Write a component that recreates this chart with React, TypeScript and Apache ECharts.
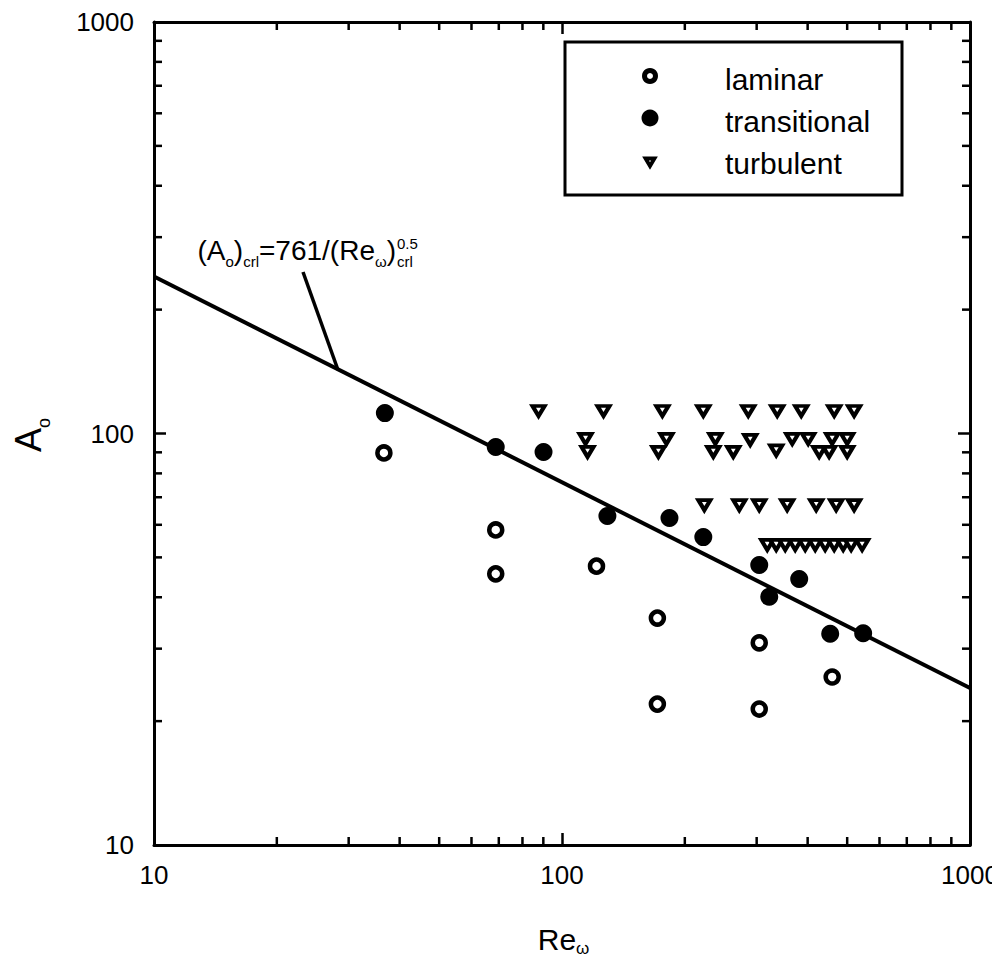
import { useEffect, useRef } from 'react';
import * as echarts from 'echarts';

const FONT = "'Liberation Sans', Arial, sans-serif";

// Axis range and tick labels (log10 scale on both axes)
const AXIS_MIN = 10;
const AXIS_MAX = 1000;
const TICK_VALUES = [10, 100, 1000];
const TICK_LABELS = ['10', '100', '1000'];
const MINOR_TICK_VALUES = [20, 30, 40, 50, 60, 70, 80, 90, 200, 300, 400, 500, 600, 700, 800, 900];

// Series names
const SERIES_NAMES = ['laminar', 'transitional', 'turbulent'];

// Laminar runs: Re_omega and A_o
const LAMINAR_RE = [36.6, 68.8, 68.8, 121.5, 171.3, 304.4, 459.4, 171.3, 304.4];
const LAMINAR_A = [89.7, 58.3, 45.6, 47.6, 35.6, 31.0, 25.6, 22.0, 21.4];

// Transitional runs
const TRANSITIONAL_RE = [36.8, 68.8, 90.1, 129.2, 183.4, 222.0, 304.4, 381.4, 322.1, 454.3, 547.2];
const TRANSITIONAL_A = [112.1, 92.7, 90.2, 63.0, 62.3, 56.0, 47.9, 44.3, 40.1, 32.6, 32.7];

// Turbulent runs
const TURBULENT_RE = [
  87.6, 126.4, 176.2, 222.0, 286.1, 336.9, 385.8, 464.7, 520.0,
  114.2, 180.3, 237.6, 289.3, 366.7, 401.3, 459.4, 500.0,
  115.5, 172.3, 234.9, 262.9, 335.0, 426.9, 451.6, 500.0,
  223.3, 272.0, 304.4, 356.4, 419.8, 469.9, 520.0,
  318.5, 335.0, 352.5, 372.9, 394.6, 417.5, 441.6, 464.7, 488.9, 511.3, 544.0,
];
const TURBULENT_A = [
  113.4, 113.4, 113.4, 113.4, 113.4, 113.4, 113.4, 113.4, 113.4,
  97.0, 97.0, 97.0, 96.5, 97.0, 97.0, 97.0, 97.0,
  90.2, 90.2, 90.2, 90.2, 91.0, 90.2, 90.2, 90.2,
  67.0, 67.0, 67.0, 67.0, 67.0, 67.0, 67.0,
  53.6, 53.6, 53.6, 53.6, 53.6, 53.6, 53.6, 53.6, 53.6, 53.6, 53.6,
];

// Critical amplitude correlation (A_o)crl = 761 / (Re_omega)crl^0.5
const FIT_COEFF = 761;
const FIT_EXPONENT = 0.5;
const FIT_RE = [10, 1000];

const zip = (xs: number[], ys: number[]) => xs.map((x, i) => [x, ys[i]]);

const tickLabel = (v: number) => {
  const i = TICK_VALUES.findIndex((t) => Math.abs(Math.log10(t) - Math.log10(v)) < 1e-6);
  return i >= 0 ? TICK_LABELS[i] : '';
};

const baseAxis = {
  type: 'log' as const,
  logBase: 10,
  min: AXIS_MIN,
  max: AXIS_MAX,
  splitLine: { show: false },
  axisLine: { show: true, onZero: false, lineStyle: { color: '#000', width: 3 } },
  axisTick: { show: true, inside: true, length: 12, lineStyle: { color: '#000', width: 2.5 } },
};

const text = (x: number, y: number, s: string, fontSize: number, extra: any = {}) => ({
  type: 'text',
  x,
  y,
  z: 11,
  ...extra,
  style: {
    text: s,
    fontSize,
    fontFamily: FONT,
    fill: '#000',
    textAlign: 'center',
    textVerticalAlign: 'middle',
    ...(extra.style || {}),
  },
});

export default function App() {
  const ref = useRef<HTMLDivElement>(null);

  useEffect(() => {
    if (!ref.current) return;
    const chart = echarts.init(ref.current, undefined, { renderer: 'svg' });

    const legendY = [68, 110, 154];
    const legendTextY = [71, 113, 155];
    const legendX = 642;

    chart.setOption({
      animation: false,
      backgroundColor: '#fff',
      grid: { left: 146, top: 14, width: 816, height: 823, outerBoundsMode: 'none', containLabel: false },
      xAxis: [
        {
          ...baseAxis,
          position: 'bottom',
          axisLabel: { margin: 17, fontSize: 26, color: '#000', fontFamily: FONT, formatter: tickLabel },
        },
        {
          ...baseAxis,
          position: 'top',
          axisLabel: { show: false },
        },
      ],
      yAxis: [
        {
          ...baseAxis,
          position: 'left',
          axisLabel: { margin: 20, fontSize: 26, color: '#000', fontFamily: FONT, formatter: tickLabel },
        },
        {
          ...baseAxis,
          position: 'right',
          axisLabel: { show: false },
        },
      ],
      series: [
        {
          type: 'custom',
          name: 'minor ticks',
          coordinateSystem: 'cartesian2d',
          silent: true,
          clip: false,
          z: 1,
          data: MINOR_TICK_VALUES.map((v) => [v, v]),
          renderItem: (params: any, api: any) => {
            const cs = params.coordSys;
            const p = api.coord([api.value(0), api.value(1)]);
            const L = 8;
            const st = { stroke: '#000', lineWidth: 2.5 };
            const top = cs.y;
            const bottom = cs.y + cs.height;
            const left = cs.x;
            const right = cs.x + cs.width;
            return {
              type: 'group',
              children: [
                { type: 'line', shape: { x1: p[0], y1: bottom, x2: p[0], y2: bottom - L }, style: st },
                { type: 'line', shape: { x1: p[0], y1: top, x2: p[0], y2: top + L }, style: st },
                { type: 'line', shape: { x1: left, y1: p[1], x2: left + L, y2: p[1] }, style: st },
                { type: 'line', shape: { x1: right, y1: p[1], x2: right - L, y2: p[1] }, style: st },
              ],
            };
          },
        },
        {
          type: 'line',
          name: 'critical',
          data: FIT_RE.map((r) => [r, FIT_COEFF / Math.pow(r, FIT_EXPONENT)]),
          symbol: 'none',
          silent: true,
          lineStyle: { color: '#000', width: 4 },
          z: 2,
        },
        {
          type: 'scatter',
          name: SERIES_NAMES[0],
          data: zip(LAMINAR_RE, LAMINAR_A),
          symbol: 'circle',
          symbolSize: 13,
          itemStyle: { color: '#fff', borderColor: '#000', borderWidth: 4.5, opacity: 1 },
          z: 3,
        },
        {
          type: 'scatter',
          name: SERIES_NAMES[1],
          data: zip(TRANSITIONAL_RE, TRANSITIONAL_A),
          symbol: 'circle',
          symbolSize: 18,
          itemStyle: { color: '#000', opacity: 1 },
          z: 3,
        },
        {
          type: 'scatter',
          name: SERIES_NAMES[2],
          data: zip(TURBULENT_RE, TURBULENT_A),
          symbol: 'triangle',
          symbolRotate: 180,
          symbolSize: [12, 10],
          itemStyle: { color: '#fff', borderColor: '#000', borderWidth: 4, opacity: 1 },
          z: 3,
        },
      ],
      graphic: [
        // x axis title: Re with omega subscript
        text(549, 931, 'Re', 30, { style: { lineHeight: 30 } }),
        text(568, 940, 'ω', 17, { style: { lineHeight: 14, textAlign: 'left' } }),
        // y axis title: A with o subscript, reading upwards
        text(20, 432, 'A', 36, { rotation: Math.PI / 2, style: { lineHeight: 32 } }),
        text(36, 415, 'o', 18, { rotation: Math.PI / 2, style: { lineHeight: 16 } }),
        // legend frame
        {
          type: 'rect',
          shape: { x: 557, y: 34, width: 337, height: 153 },
          style: { fill: '#fff', stroke: '#000', lineWidth: 3 },
          z: 10,
        },
        {
          type: 'circle',
          shape: { cx: legendX, cy: legendY[0], r: 5.5 },
          style: { fill: '#fff', stroke: '#000', lineWidth: 5 },
          z: 11,
        },
        {
          type: 'circle',
          shape: { cx: legendX, cy: legendY[1], r: 8.5 },
          style: { fill: '#000' },
          z: 11,
        },
        {
          type: 'polygon',
          shape: {
            points: [
              [legendX - 4.5, legendY[2] - 3.5],
              [legendX + 4.5, legendY[2] - 3.5],
              [legendX, legendY[2] + 4],
            ],
          },
          style: { fill: '#fff', stroke: '#000', lineWidth: 3.8, lineJoin: 'miter' },
          z: 11,
        },
        ...SERIES_NAMES.map((n, i) =>
          text(717, legendTextY[i], n, 30, { style: { textAlign: 'left' } }),
        ),
        // correlation annotation: main part
        {
          type: 'text',
          x: 388,
          y: 242,
          style: {
            text: '{m|(A}{s|o}{m|)}{s|crl}{m|=761/(Re}{s|ω}{m|)}',
            textAlign: 'right',
            textVerticalAlign: 'middle',
            fill: '#000',
            rich: {
              m: { fontSize: 28, lineHeight: 34, fontFamily: FONT, fill: '#000' },
              s: { fontSize: 15, lineHeight: 15, padding: [23, 0, 0, 0], fontFamily: FONT, fill: '#000' },
            },
          },
          z: 11,
        },
        // stacked exponent and subscript after the closing bracket
        text(389, 244, '0.5\ncrl', 15, { style: { lineHeight: 18, textAlign: 'left' } }),
        {
          type: 'line',
          shape: { x1: 295, y1: 264, x2: 330, y2: 362 },
          style: { stroke: '#000', lineWidth: 3.5 },
          z: 11,
        },
      ],
    });

    return () => chart.dispose();
  }, []);

  return <div ref={ref} style={{ width: 992, height: 952 }} />;
}
